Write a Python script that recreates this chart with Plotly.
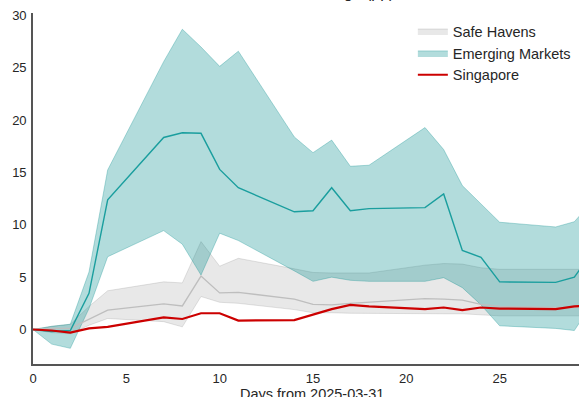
import plotly.graph_objects as go

# ---- data ----
days = [0, 1, 2, 3, 4, 7, 8, 9, 10, 11, 14, 15, 16, 17, 18, 21, 22, 23, 24, 25, 28, 29, 30]

em_mean = [0, -0.2, -0.1, 3.45, 12.4, 18.35, 18.8, 18.75, 15.3, 13.55, 11.25, 11.35, 13.55,
           11.35, 11.55, 11.65, 12.95, 7.55, 6.9, 4.55, 4.5, 5.0, 7.5]
em_upper = [0, 0.3, 0.5, 5.5, 15.25, 25.6, 28.7, 27.0, 25.15, 26.6, 18.4, 16.9, 18.1,
            15.6, 15.7, 19.3, 17.2, 13.75, 12.0, 10.25, 9.8, 10.3, 12.3]
em_lower = [0, -1.4, -1.8, 2.0, 6.95, 9.45, 8.15, 5.2, 9.2, 8.5, 5.6, 4.6, 5.0,
            4.7, 4.6, 4.6, 4.95, 4.0, 2.35, 0.35, 0.1, -0.1, 2.6]

sh_mean = [0, 0.1, 0.1, 1.0, 1.85, 2.45, 2.25, 5.1, 3.5, 3.55, 2.9, 2.4, 2.35,
           2.5, 2.6, 2.95, 2.9, 2.8, 2.4, 2.2, 2.1, 2.1, 2.2]
sh_upper = [0, 0.3, 0.5, 2.2, 3.7, 4.55, 4.45, 8.4, 6.05, 6.8, 5.8, 5.45, 5.4,
            5.4, 5.4, 6.15, 6.3, 6.25, 5.9, 5.75, 5.75, 5.75, 5.75]
sh_lower = [0, -0.3, -0.4, 0.4, 1.05, 0.75, 0.25, 3.15, 2.6, 2.5, 1.9, 1.6, 1.6,
            1.55, 1.55, 1.5, 1.5, 1.5, 1.4, 1.3, 1.3, 1.3, 1.3]

singapore = [0, -0.1, -0.3, 0.1, 0.25, 1.15, 1.0, 1.55, 1.55, 0.85, 0.9, 1.4, 1.95,
             2.35, 2.2, 1.95, 2.1, 1.85, 2.1, 2.0, 1.95, 2.2, 2.3]

series_names = ["Safe Havens", "Emerging Markets", "Singapore"]
x_ticks = [0, 5, 10, 15, 20, 25]
y_ticks = [0, 5, 10, 15, 20, 25, 30]

FONT = "Liberation Sans, Arial, sans-serif"

fig = go.Figure()

# Safe havens band
fig.add_trace(go.Scatter(
    x=days + days[::-1], y=sh_upper + sh_lower[::-1],
    fill="toself", fillcolor="rgba(128,128,128,0.18)",
    line=dict(color="rgba(128,128,128,0.22)", width=1),
    mode="lines", name=series_names[0], hoverinfo="skip"))
# Emerging markets band
fig.add_trace(go.Scatter(
    x=days + days[::-1], y=em_upper + em_lower[::-1],
    fill="toself", fillcolor="rgba(0,139,139,0.30)",
    line=dict(color="rgba(0,139,139,0.30)", width=1),
    mode="lines", name=series_names[1], hoverinfo="skip"))
# means
fig.add_trace(go.Scatter(x=days, y=sh_mean, mode="lines",
                         line=dict(color="rgb(190,190,190)", width=1.3),
                         showlegend=False))
fig.add_trace(go.Scatter(x=days, y=em_mean, mode="lines",
                         line=dict(color="#1a9e9e", width=1.4),
                         showlegend=False))
fig.add_trace(go.Scatter(x=days, y=singapore, mode="lines", name=series_names[2],
                         line=dict(color="#cc0000", width=2.2)))

fig.update_layout(
    width=579, height=397,
    margin=dict(l=33, r=0, t=13, b=33, autoexpand=False),
    paper_bgcolor="white", plot_bgcolor="white",
    font=dict(family=FONT, size=13, color="#262626"),
    annotations=[
        dict(text="Cumulative Change (pp)", font=dict(size=16, color="#262626"),
             xref="paper", yref="paper", x=(396 - 33) / 546, xanchor="right",
             y=(364 - 2.5) / 351, yanchor="bottom", showarrow=False),
        dict(text="Days from 2025-03-31", font=dict(size=14.5, color="#262626"),
             xref="paper", yref="paper", x=(312 - 33) / 546, xanchor="center",
             y=(364 - 384) / 351, yanchor="top", showarrow=False),
    ],
    legend=dict(x=0.6957, xanchor="left", y=0.994, yanchor="top",
                bgcolor="rgba(0,0,0,0)", font=dict(size=14.5, color="#262626"),
                traceorder="normal"),
    showlegend=True,
)
fig.update_xaxes(range=[0, 29.25], tickvals=x_ticks, showgrid=False, zeroline=False,
                 showline=True, linecolor="#555555", linewidth=1.6, automargin=False,
                 ticks="outside", ticklen=2, tickcolor="rgba(0,0,0,0)",
                 tickfont=dict(size=13))
fig.update_yaxes(range=[-3.3, 30.25], tickvals=y_ticks, showgrid=False, zeroline=False,
                 showline=True, linecolor="#555555", linewidth=1.6, automargin=False,
                 ticks="outside", ticklen=2, tickcolor="rgba(0,0,0,0)",
                 tickfont=dict(size=13))

fig.write_html("out.html", config={"displayModeBar": False},
               post_script="document.body.style.margin='0';document.body.style.overflow='hidden';")
